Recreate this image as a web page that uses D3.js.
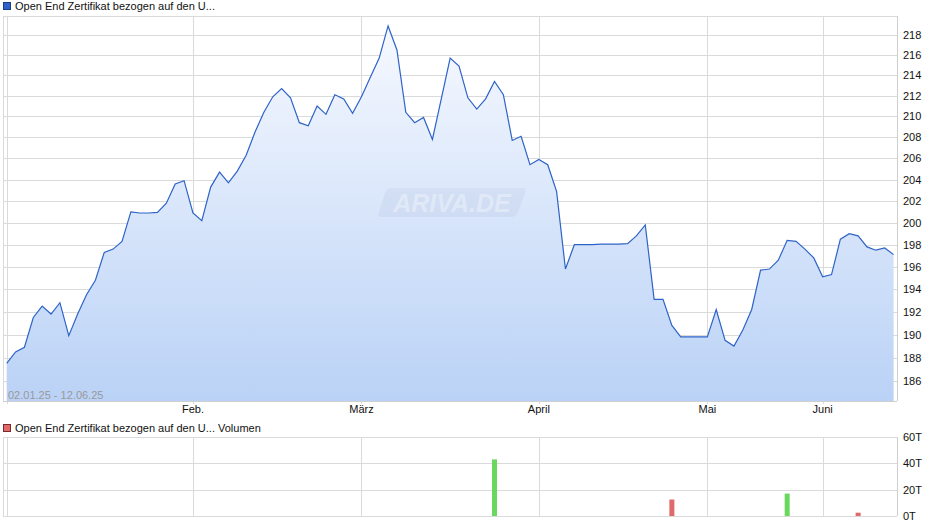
<!DOCTYPE html>
<html>
<head>
<meta charset="utf-8">
<script src="https://cdn.jsdelivr.net/npm/d3@7/dist/d3.min.js"></script>
<style>
  html, body { margin: 0; padding: 0; background: #fff; }
  svg { display: block; font-family: "Liberation Sans", Arial, sans-serif; }
</style>
</head>
<body>
<svg id="chart" width="940" height="526"></svg>
<script>
// ---- data (index = trading point from 02.01.25 to 12.06.25) ----
const priceValues = [
  187.5, 188.5, 188.9, 191.5, 192.5, 191.8, 192.8, 189.9, 191.8, 193.5,
  194.8, 197.3, 197.6, 198.3, 201.0, 200.9, 200.9, 200.95, 201.8, 203.6,
  203.9, 200.9, 200.2, 203.3, 204.7, 203.7, 204.8, 206.3, 208.5, 210.4,
  211.9, 212.7, 211.8, 209.4, 209.1, 211.0, 210.2, 212.1, 211.7, 210.3,
  211.9, 213.8, 215.7, 218.9, 216.5, 210.4, 209.4, 209.9, 207.8, 211.7,
  215.7, 214.9, 211.8, 210.7, 211.7, 213.4, 212.1, 207.7, 208.1, 205.4,
  205.9, 205.4, 202.9, 195.8, 198.0, 198.0, 198.0, 198.05, 198.05, 198.05,
  198.1, 198.8, 199.8, 193.1, 193.1, 190.8, 189.8, 189.8, 189.8, 189.8,
  192.2, 189.5, 189.0, 190.4, 192.2, 195.7, 195.8, 196.6, 198.4, 198.3,
  197.6, 196.8, 195.1, 195.3, 198.5, 199.0, 198.8, 197.8, 197.5, 197.7,
  197.1
];
const volumeIndex  = [55, 75, 88, 96];
const volumeValues = [43, 12.5, 17, 2.5];       // in thousands (T)
const monthLabels  = ["Feb.", "März", "April", "Mai", "Juni"];
const monthIndex   = [21, 40, 60, 79, 92];
const priceTicks   = [186,188,190,192,194,196,198,200,202,204,206,208,210,212,214,216,218];
const volumeTicks  = [0, 20, 40, 60];
const volumeTickLabels = ["0T", "20T", "40T", "60T"];
const seriesName   = "Open End Zertifikat bezogen auf den U...";
const dateRange    = "02.01.25 - 12.06.25";

// ---- layout ----
const svg = d3.select("#chart");
const L = 3, R = 897, T1 = 16, B1 = 401, T2 = 437, B2 = 516;
const gridCol = "#dadada";

const x = d3.scaleLinear().domain([0, priceValues.length - 1]).range([6.7, 893.6]);
const y = d3.scaleLog().domain([184.3, 219.9]).range([B1, T1]);
const yv = d3.scaleLinear().domain([0, 60]).range([B2, T2]);

// gradient
const defs = svg.append("defs");
const grad = defs.append("linearGradient").attr("id", "fillGrad")
  .attr("gradientUnits", "userSpaceOnUse")
  .attr("x1", 0).attr("y1", T1).attr("x2", 0).attr("y2", B1);
grad.append("stop").attr("offset", "0%").attr("stop-color", "#f8faff");
grad.append("stop").attr("offset", "100%").attr("stop-color", "#bad2f6");

// ---- top legend ----
svg.append("rect").attr("x", 3.5).attr("y", 2.5).attr("width", 7).attr("height", 7)
  .attr("fill", "#2d63c8").attr("stroke", "#1a3f8a").attr("stroke-width", 1);
svg.append("text").attr("x", 15).attr("y", 10).attr("font-size", 11).attr("fill", "#111")
  .text(seriesName);

// ---- top panel grid ----
const g1 = svg.append("g");
g1.selectAll("line.hg").data(priceTicks).join("line")
  .attr("x1", L).attr("x2", R)
  .attr("y1", d => Math.round(y(d)) + 0.5).attr("y2", d => Math.round(y(d)) + 0.5)
  .attr("stroke", gridCol).attr("stroke-width", 1);
g1.selectAll("line.vg").data(monthIndex.concat([0])).join("line")
  .attr("x1", d => Math.round(x(d)) + 0.5).attr("x2", d => Math.round(x(d)) + 0.5)
  .attr("y1", T1).attr("y2", B1 + 3)
  .attr("stroke", gridCol).attr("stroke-width", 1);

// area + line
const area = d3.area().x((d, i) => x(i)).y0(B1).y1(d => y(d));
const line = d3.line().x((d, i) => x(i)).y(d => y(d));
svg.append("path").datum(priceValues).attr("d", area).attr("fill", "url(#fillGrad)");

// watermark (over the fill, very faint)
const wm = svg.append("g");
wm.append("path")
  .attr("d", "M388,188 L523,188 Q527,188 525,193 L518,212 Q516,217 511,217 L381,217 Q377,217 379,212 L385,193 Q387,188 392,188 Z")
  .attr("fill", "#8fa3c6").attr("opacity", 0.13);
wm.append("text").attr("x", 452).attr("y", 212).attr("text-anchor", "middle")
  .attr("font-size", 25).attr("font-weight", "bold").attr("font-style", "italic")
  .attr("fill", "#ffffff").attr("opacity", 0.35).text("ARIVA.DE");

svg.append("path").datum(priceValues).attr("d", line).attr("fill", "none")
  .attr("stroke", "#2d63c8").attr("stroke-width", 1.2).attr("stroke-linejoin", "miter");

// frame
svg.append("line").attr("x1", L).attr("x2", R).attr("y1", T1 + 0.5).attr("y2", T1 + 0.5).attr("stroke", gridCol);
svg.append("line").attr("x1", L).attr("x2", R).attr("y1", B1 + 0.5).attr("y2", B1 + 0.5).attr("stroke", "#cfcfcf");
svg.append("line").attr("x1", L + 0.5).attr("x2", L + 0.5).attr("y1", T1).attr("y2", B1).attr("stroke", gridCol);
svg.append("line").attr("x1", R + 0.5).attr("x2", R + 0.5).attr("y1", T1).attr("y2", B1).attr("stroke", "#cfcfcf");

// right axis labels
svg.append("g").selectAll("text").data(priceTicks).join("text")
  .attr("x", 903).attr("y", d => y(d) + 4).attr("font-size", 11).attr("fill", "#111")
  .text(d => d);

// x axis labels
svg.append("g").selectAll("text").data(monthLabels).join("text")
  .attr("x", (d, i) => x(monthIndex[i])).attr("y", 413).attr("text-anchor", "middle")
  .attr("font-size", 11).attr("fill", "#111").text(d => d);

// date range
svg.append("text").attr("x", 8).attr("y", 399).attr("font-size", 11).attr("fill", "#999")
  .text(dateRange);

// ---- volume panel ----
svg.append("rect").attr("x", 3.5).attr("y", 424.5).attr("width", 7).attr("height", 7)
  .attr("fill", "#e06a6a").attr("stroke", "#7a2a2a").attr("stroke-width", 1);
svg.append("text").attr("x", 15).attr("y", 432).attr("font-size", 11).attr("fill", "#111")
  .text(seriesName + " Volumen");

const g2 = svg.append("g");
g2.selectAll("line.hg").data(volumeTicks).join("line")
  .attr("x1", L).attr("x2", R)
  .attr("y1", d => Math.round(yv(d)) + 0.5).attr("y2", d => Math.round(yv(d)) + 0.5)
  .attr("stroke", gridCol);
g2.selectAll("line.vg").data(monthIndex.concat([0])).join("line")
  .attr("x1", d => Math.round(x(d)) + 0.5).attr("x2", d => Math.round(x(d)) + 0.5)
  .attr("y1", T2).attr("y2", B2)
  .attr("stroke", gridCol);
svg.append("line").attr("x1", L + 0.5).attr("x2", L + 0.5).attr("y1", T2).attr("y2", B2).attr("stroke", gridCol);
svg.append("line").attr("x1", R + 0.5).attr("x2", R + 0.5).attr("y1", T2).attr("y2", B2).attr("stroke", "#cfcfcf");

g2.selectAll("rect.bar").data(volumeValues).join("rect")
  .attr("x", (d, i) => x(volumeIndex[i]) - 2.5)
  .attr("width", 5)
  .attr("y", d => yv(d))
  .attr("height", d => yv(0) - yv(d))
  .attr("fill", (d, i) => {
    const k = volumeIndex[i];
    return priceValues[k] >= priceValues[k - 1] ? "#6ad85f" : "#e06a6a";
  });

svg.append("g").selectAll("text").data(volumeTicks).join("text")
  .attr("x", 903).attr("y", d => yv(d) + 4).attr("font-size", 11).attr("fill", "#111")
  .text((d, i) => volumeTickLabels[i]);
</script>
</body>
</html>
